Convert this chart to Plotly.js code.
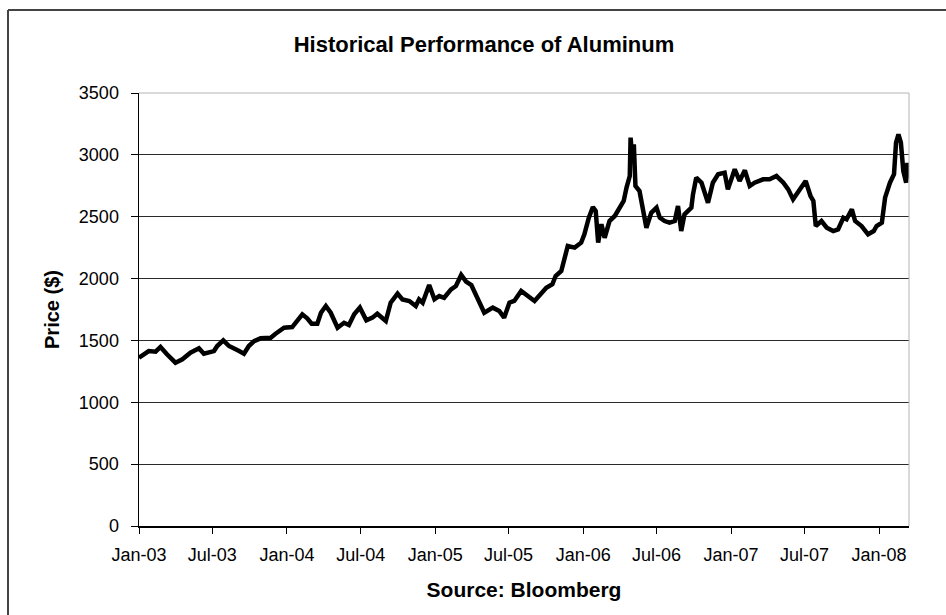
<!DOCTYPE html>
<html>
<head>
<meta charset="utf-8">
<script src="https://cdn.plot.ly/plotly-3.0.1.min.js"></script>
<style>
  html, body { margin: 0; padding: 0; background: #ffffff; }
  #chart { width: 946px; height: 615px; }
</style>
</head>
<body>
<div id="chart"></div>
<script>
// ---- Data ----
const dates = [
  '2003-01-01','2003-01-25','2003-02-11','2003-02-23','2003-03-11','2003-04-01','2003-04-18','2003-05-08','2003-05-29','2003-06-10','2003-07-05','2003-07-13','2003-07-28','2003-08-11','2003-09-05','2003-09-17','2003-09-29','2003-10-12','2003-10-28','2003-11-22','2003-12-04','2003-12-25',
  '2004-01-14','2004-01-27','2004-02-08','2004-02-20','2004-03-02','2004-03-16','2004-03-25','2004-04-06','2004-04-18','2004-05-05','2004-05-21','2004-06-02','2004-06-15','2004-06-29','2004-07-15','2004-07-30','2004-08-11','2004-09-01','2004-09-13','2004-09-30','2004-10-12','2004-10-29','2004-11-14','2004-11-22','2004-12-01','2004-12-17','2004-12-30',
  '2005-01-11','2005-01-23','2005-02-09','2005-02-21','2005-03-06','2005-03-18','2005-03-31','2005-04-16','2005-05-02','2005-05-23','2005-06-08','2005-06-20','2005-07-03','2005-07-15','2005-08-01','2005-09-03','2005-10-02','2005-10-17','2005-10-25','2005-11-08','2005-11-16','2005-11-24','2005-12-11','2005-12-27',
  '2006-01-04','2006-01-15','2006-01-25','2006-02-01','2006-02-07','2006-02-15','2006-02-23','2006-03-07','2006-03-20','2006-04-01','2006-04-11','2006-04-18','2006-04-26','2006-04-28','2006-05-02','2006-05-06','2006-05-10','2006-05-20','2006-05-29','2006-06-06','2006-06-18','2006-07-01','2006-07-09','2006-07-21','2006-08-02','2006-08-15','2006-08-23','2006-08-31','2006-09-08','2006-09-16','2006-09-25','2006-09-29','2006-10-07','2006-10-20','2006-11-05','2006-11-17','2006-11-30','2006-12-16','2006-12-24',
  '2007-01-10','2007-01-22','2007-02-04','2007-02-16','2007-02-28','2007-03-21','2007-04-06','2007-04-23','2007-05-10','2007-05-22','2007-06-03','2007-06-16','2007-07-04','2007-07-16','2007-07-23','2007-07-29','2007-08-12','2007-08-25','2007-09-10','2007-09-22','2007-10-05','2007-10-13','2007-10-26','2007-11-03','2007-11-19','2007-12-05','2007-12-19','2007-12-26',
  '2008-01-08','2008-01-16','2008-01-28','2008-02-07','2008-02-12','2008-02-18','2008-02-24','2008-03-01','2008-03-08','2008-03-11','2008-03-13'
];
const prices = [
  1360,1414,1409,1447,1388,1320,1347,1401,1436,1393,1414,1455,1501,1455,1414,1393,1455,1495,1517,1522,1554,1603,
  1608,1657,1711,1679,1635,1635,1724,1778,1724,1603,1643,1625,1711,1765,1662,1684,1716,1657,1805,1878,1832,1819,1778,1832,1805,1948,1832,
  1859,1845,1913,1940,2029,1975,1948,1845,1724,1765,1738,1684,1805,1819,1900,1819,1926,1954,2021,2061,2169,2263,2250,2290,
  2358,2492,2578,2545,2290,2439,2330,2465,2506,2573,2627,2735,2829,3139,2977,3085,2748,2708,2573,2411,2532,2573,2492,2465,2452,2465,2586,2384,2519,2546,2573,2681,2815,2775,2613,2775,2843,2856,2721,
  2883,2789,2875,2748,2775,2802,2802,2829,2775,2721,2640,2708,2789,2667,2627,2425,2465,2411,2384,2398,2492,2479,2560,2465,2425,2358,2384,2425,
  2452,2654,2775,2843,3098,3166,3098,2869,2775,2936,2815
];
const titleText = 'Historical Performance of Aluminum';
const xTitleText = 'Source: Bloomberg';
const yTitleText = 'Price ($)';
const xRange = ['2003-01-01', '2008-03-15'];
const yRange = [0, 3500];

// ---- Layout geometry (pixels) ----
const W = 946, H = 615;
const L = 139, R = 909, T = 93, B = 526;
const pw = R - L, ph = B - T;
const px = v => (v - L) / pw;        // pixel x -> paper
const py = v => (B - v) / ph;        // pixel y -> paper

const font = 'Liberation Sans, Arial, sans-serif';

const trace = {
  x: dates,
  y: prices,
  type: 'scatter',
  mode: 'lines',
  line: { color: '#000000', width: 4.5 },
  hoverinfo: 'x+y'
};

const layout = {
  width: W,
  height: H,
  margin: { l: L, r: W - R, t: T, b: H - B, pad: 0 },
  paper_bgcolor: '#ffffff',
  plot_bgcolor: '#ffffff',
  showlegend: false,
  font: { family: font, color: '#000000' },
  title: {
    text: '<b>' + titleText + '</b>',
    font: { family: font, size: 22, color: '#000000' },
    xref: 'container', yref: 'container',
    x: 484 / W, y: 1 - 44 / H,
    xanchor: 'center', yanchor: 'middle'
  },
  xaxis: {
    type: 'date',
    range: xRange,
    tick0: '2003-01-01',
    dtick: 'M6',
    tickformat: '%b-%y',
    ticks: 'outside',
    ticklen: 6,
    tickwidth: 1,
    tickcolor: '#000000',
    ticklabelstandoff: 6,
    tickfont: { family: font, size: 18, color: '#000000' },
    showline: true,
    linecolor: '#000000',
    linewidth: 1.5,
    showgrid: false,
    zeroline: false,
    fixedrange: true,
    automargin: false,
    title: {
      text: '<b>' + xTitleText + '</b>',
      font: { family: font, size: 21, color: '#000000' },
      standoff: 18
    }
  },
  yaxis: {
    range: yRange,
    dtick: 500,
    tick0: 0,
    tickformat: 'd',
    ticks: 'outside',
    ticklen: 7,
    tickwidth: 1,
    tickcolor: '#000000',
    ticklabelstandoff: 8,
    tickfont: { family: font, size: 18, color: '#000000' },
    showline: true,
    linecolor: '#000000',
    linewidth: 1.5,
    showgrid: true,
    gridcolor: '#2a2a2a',
    gridwidth: 1,
    zeroline: false,
    fixedrange: true,
    automargin: false,
    title: {
      text: '<b>' + yTitleText + '</b>',
      font: { family: font, size: 20, color: '#000000' },
      standoff: 14
    }
  },
  shapes: [
    // plot-area border (top and right, light gray)
    { type: 'line', xref: 'paper', yref: 'paper', x0: 0, x1: 1, y0: 1, y1: 1,
      line: { color: '#b4b4b4', width: 1 }, layer: 'above' },
    { type: 'line', xref: 'paper', yref: 'paper', x0: 1, x1: 1, y0: 0, y1: 1,
      line: { color: '#b4b4b4', width: 1 }, layer: 'above' },
    // chart-area outer border
    { type: 'line', xref: 'paper', yref: 'paper', x0: px(8), x1: px(8), y0: py(10), y1: py(620),
      line: { color: '#444444', width: 2 }, layer: 'above' },
    { type: 'line', xref: 'paper', yref: 'paper', x0: px(8), x1: px(960), y0: py(10), y1: py(10),
      line: { color: '#444444', width: 2 }, layer: 'above' }
  ]
};

Plotly.newPlot('chart', [trace], layout, { displayModeBar: false, staticPlot: true });
</script>
</body>
</html>
